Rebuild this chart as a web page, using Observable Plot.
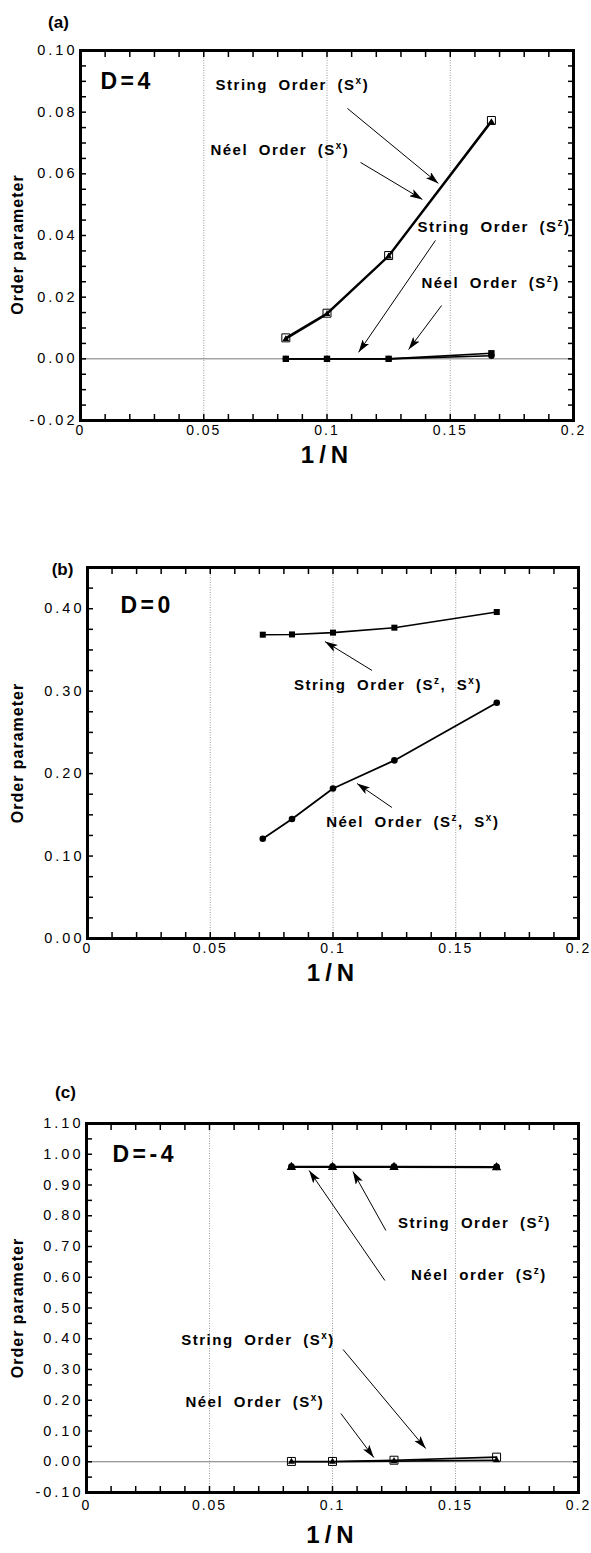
<!DOCTYPE html>
<html><head><meta charset="utf-8">
<script src="https://cdn.jsdelivr.net/npm/d3@7"></script>
<script src="https://cdn.jsdelivr.net/npm/@observablehq/plot@0.6"></script>
<style>
html,body{margin:0;padding:0;background:#fff;}
#chart svg{display:block;}
</style></head><body><div id="chart"></div>
<script>
const FONT = "'Liberation Sans', Arial, Helvetica, sans-serif";

// ---------- shared x axis ----------
const xTicks = [0, 0.05, 0.1, 0.15, 0.2];
const xTickLabels = ["0", "0.05", "0.1", "0.15", "0.2"];
const gridX = [0.05, 0.1, 0.15];

// ---------- panel (a) D=4 ----------
const aX = [0.0833, 0.1, 0.125, 0.1667];
const aStringSx = [0.0068, 0.0148, 0.0335, 0.0773];
const aNeelSx   = [0.0064, 0.0145, 0.0332, 0.0768];
const aStringSz = [0.0000, 0.0000, 0.0000, 0.0018];
const aNeelSz   = [0.0000, 0.0000, 0.0000, 0.0010];
const aYTicks = [-0.02, 0.00, 0.02, 0.04, 0.06, 0.08, 0.10];
const aYTickLabels = ["-0.02", "0.00", "0.02", "0.04", "0.06", "0.08", "0.10"];
const aNotes = [
  {text: "String Order (S^x)", x: 0.0548, y: 0.0886},
  {text: "Néel Order (S^x)", x: 0.0527, y: 0.0676},
  {text: "String Order (S^z)", x: 0.1367, y: 0.0426},
  {text: "Néel Order (S^z)", x: 0.1383, y: 0.0244}
];
const aArrows = [
  {x1: 0.1083, y1: 0.0812, x2: 0.1452, y2: 0.0569},
  {x1: 0.1136, y1: 0.0637, x2: 0.1387, y2: 0.0517},
  {x1: 0.1440, y1: 0.0384, x2: 0.1128, y2: 0.0021},
  {x1: 0.1465, y1: 0.0173, x2: 0.1331, y2: 0.0030}
];

// ---------- panel (b) D=0 ----------
const bX = [0.0714, 0.0833, 0.1, 0.125, 0.1667];
const bString = [0.3685, 0.3688, 0.371, 0.377, 0.396];
const bNeel   = [0.121, 0.145, 0.182, 0.216, 0.286];
const bYTicks = [0, 0.1, 0.2, 0.3, 0.4];
const bYTickLabels = ["0.00", "0.10", "0.20", "0.30", "0.40"];
const bNotes = [
  {text: "String Order (S^z, S^x)", x: 0.0841, y: 0.3069},
  {text: "Néel Order (S^z, S^x)", x: 0.0972, y: 0.1407}
];
const bArrows = [
  {x1: 0.1159, y1: 0.3251, x2: 0.0967, y2: 0.3602},
  {x1: 0.1240, y1: 0.1589, x2: 0.1098, y2: 0.1880}
];

// ---------- panel (c) D=-4 ----------
const cX = [0.0833, 0.1, 0.125, 0.1667];
const cStringSz = [0.960, 0.960, 0.960, 0.959];
const cNeelSz   = [0.958, 0.958, 0.958, 0.957];
const cStringSx = [0.001, 0.001, 0.005, 0.015];
const cNeelSx   = [0.000, 0.000, 0.002, 0.005];
const cYTicks = [-0.1, 0, 0.1, 0.2, 0.3, 0.4, 0.5, 0.6, 0.7, 0.8, 0.9, 1.0, 1.1];
const cYTickLabels = ["-0.10", "0.00", "0.10", "0.20", "0.30", "0.40", "0.50", "0.60", "0.70", "0.80", "0.90", "1.00", "1.10"];
const cNotes = [
  {text: "String Order (S^z)", x: 0.1266, y: 0.7748},
  {text: "Néel order (S^z)", x: 0.1319, y: 0.6057},
  {text: "String Order (S^x)", x: 0.0385, y: 0.3943},
  {text: "Néel Order (S^x)", x: 0.0402, y: 0.1927}
];
const cArrows = [
  {x1: 0.1217, y1: 0.752, x2: 0.1083, y2: 0.944},
  {x1: 0.1213, y1: 0.5894, x2: 0.0905, y2: 0.9472},
  {x1: 0.1043, y1: 0.365, x2: 0.1379, y2: 0.043},
  {x1: 0.1034, y1: 0.157, x2: 0.1168, y2: 0.0138}
];

const panels = [
  {
    tag: "(a)", tagDx: -22, tagDy: -35, ylDy: 9,
    dLabel: {text: "D=4", x: 0.0081, y: 0.0899},
    height: 500, mt: 50, mb: 80, ml: 80, mr: 18, xPad: 5, nDy: 42,
    yDomain: [-0.02, 0.10], yTicks: aYTicks, yTickLabels: aYTickLabels,
    yMinor: d3.range(-0.02, 0.1001, 0.005), zeroLine: true,
    x: aX,
    series: [
      {y: aStringSx, lw: 1.8, symbol: "square", r: 4.5, fill: "none", stroke: "black"},
      {y: aNeelSx, lw: 1.8, symbol: "triangle", r: 2.5, fill: "black", stroke: "none"},
      {y: aStringSz, lw: 1.6, symbol: "square", r: 3.6, fill: "black", stroke: "none"},
      {y: aNeelSz, lw: 1.6, symbol: "circle", r: 3.2, fill: "black", stroke: "none"}
    ],
    notes: aNotes, arrows: aArrows
  },
  {
    tag: "(b)", tagDx: -25, tagDy: -5, ylDy: 0,
    dLabel: {text: "D=0", x: 0.0134, y: 0.4039},
    height: 530, mt: 67, mb: 92, ml: 87, mr: 13, xPad: 5, nDy: 42,
    yDomain: [0, 0.45], yTicks: bYTicks, yTickLabels: bYTickLabels,
    yMinor: d3.range(0, 0.4501, 0.025), zeroLine: false,
    x: bX,
    series: [
      {y: bString, lw: 1.6, symbol: "square", r: 3.4, fill: "black", stroke: "none"},
      {y: bNeel, lw: 1.8, symbol: "circle", r: 3.3, fill: "black", stroke: "none"}
    ],
    notes: bNotes, arrows: bArrows
  },
  {
    tag: "(c)", tagDx: -21, tagDy: -38, ylDy: 0,
    dLabel: {text: "D=-4", x: 0.01055, y: 0.9992},
    height: 523, mt: 93, mb: 61, ml: 86, mr: 13, xPad: 8, nDy: 50,
    yDomain: [-0.1, 1.1], yTicks: cYTicks, yTickLabels: cYTickLabels,
    yMinor: d3.range(-0.1, 1.1001, 0.05), zeroLine: true,
    x: cX,
    series: [
      {y: cStringSz, lw: 1.8, symbol: "circle", r: 3.4, fill: "black", stroke: "none"},
      {y: cNeelSz, lw: 1.6, symbol: "triangle", r: 3.5, fill: "black", stroke: "none"},
      {y: cStringSx, lw: 1.6, symbol: "square", r: 4.5, fill: "none", stroke: "black"},
      {y: cNeelSx, lw: 1.6, symbol: "triangle", r: 2.6, fill: "black", stroke: "none"}
    ],
    notes: cNotes, arrows: cArrows
  }
];

const xMinor = d3.range(0, 0.2001, 0.01);
const NS = "http://www.w3.org/2000/svg";

function labeler(vals, labels) {
  const m = new Map(vals.map((v, i) => [v, labels[i]]));
  return d => m.get(d) ?? "";
}

function superscripts(svg) {
  svg.querySelectorAll("text").forEach(t => {
    const s = t.textContent;
    if (!s.includes("^")) return;
    while (t.firstChild) t.removeChild(t.firstChild);
    const parts = s.split(/\^(\w)/);
    parts.forEach((p, i) => {
      if (p === "") return;
      const ts = document.createElementNS(NS, "tspan");
      ts.textContent = p;
      if (i % 2 === 1) { ts.setAttribute("dy", "-6"); ts.setAttribute("font-size", "10"); }
      else if (i > 0) { ts.setAttribute("dy", "6"); }
      t.appendChild(ts);
    });
  });
}

function spacing(svg) {
  svg.querySelectorAll("g").forEach(g => {
    const al = g.getAttribute("aria-label") || "";
    const fs = g.getAttribute("font-size");
    if (al === "y-axis tick label") {
      g.style.letterSpacing = "3px";
    } else if (al === "x-axis tick label") {
      g.style.letterSpacing = "2px";
    } else if (al === "text") {
      if (fs === "15") { g.style.letterSpacing = "1.5px"; g.style.wordSpacing = "5px"; }
      else if (fs === "23") g.style.letterSpacing = "3.5px";
      else if (fs === "24") g.style.letterSpacing = "5px";
      else if (fs === "16") g.style.letterSpacing = "1px";
    }
  });
}

function arrowHeads(svg, k) {
  const defs = document.createElementNS(NS, "defs");
  const marker = document.createElementNS(NS, "marker");
  marker.setAttribute("id", "ah" + k);
  marker.setAttribute("viewBox", "0 0 13 8");
  marker.setAttribute("refX", "13");
  marker.setAttribute("refY", "4");
  marker.setAttribute("markerWidth", "13");
  marker.setAttribute("markerHeight", "8");
  marker.setAttribute("markerUnits", "userSpaceOnUse");
  marker.setAttribute("orient", "auto");
  const p = document.createElementNS(NS, "path");
  p.setAttribute("d", "M0,0L13,4L0,8L3,4Z");
  p.setAttribute("fill", "black");
  marker.appendChild(p);
  defs.appendChild(marker);
  svg.insertBefore(defs, svg.firstChild);
  svg.querySelectorAll('g[aria-label="link"] path').forEach(el => el.setAttribute("marker-end", `url(#ah${k})`));
}

const root = document.getElementById("chart");
panels.forEach((cfg, k) => {
  const marks = [
    Plot.ruleX(gridX, {stroke: "#999", strokeWidth: 1, strokeDasharray: "1,1.5"})
  ];
  if (cfg.zeroLine) marks.push(Plot.ruleY([0], {stroke: "#777", strokeWidth: 1}));
  for (const s of cfg.series) marks.push(Plot.line(cfg.x, {x: cfg.x, y: s.y, stroke: "black", strokeWidth: s.lw}));
  for (const s of cfg.series) marks.push(Plot.dot(cfg.x, {x: cfg.x, y: s.y, symbol: s.symbol, r: s.r, fill: s.fill, stroke: s.stroke, strokeWidth: 1}));
  marks.push(
    Plot.link(cfg.arrows, {x1: "x1", y1: "y1", x2: "x2", y2: "y2", stroke: "black", strokeWidth: 1}),
    Plot.text(cfg.notes, {x: "x", y: "y", text: "text", textAnchor: "start", fontSize: 15, fontWeight: "bold", fill: "black"}),
    Plot.text([cfg.dLabel], {x: "x", y: "y", text: "text", textAnchor: "start", fontSize: 23, fontWeight: "bold", fill: "black"}),
    Plot.text([cfg.tag], {text: d => d, frameAnchor: "top-left", textAnchor: "middle", dx: cfg.tagDx, dy: cfg.tagDy, fontSize: 17, fontWeight: "bold", fill: "black"}),
    Plot.text(["Order parameter"], {text: d => d, frameAnchor: "left", textAnchor: "middle", dx: 17 - cfg.ml, dy: cfg.ylDy, rotate: -90, fontSize: 16, fontWeight: "bold", fill: "black"}),
    Plot.text(["1/N"], {text: d => d, frameAnchor: "bottom", textAnchor: "middle", dy: cfg.nDy, fontSize: 24, fontWeight: "bold", fill: "black"}),
    Plot.axisY(cfg.yTicks, {anchor: "left", tickSize: 0, tickPadding: 3, tickFormat: labeler(cfg.yTicks, cfg.yTickLabels), fontSize: 14.5, label: null}),
    Plot.axisY(cfg.yMinor, {anchor: "left", tickSize: -6, strokeWidth: 1.5, tickFormat: () => "", label: null}),
    Plot.axisY(cfg.yMinor, {anchor: "right", tickSize: -6, strokeWidth: 1.5, tickFormat: () => "", label: null}),
    Plot.axisX(xTicks, {anchor: "bottom", tickSize: 0, tickPadding: cfg.xPad, tickFormat: labeler(xTicks, xTickLabels), fontSize: 14, label: null}),
    Plot.axisX(xMinor, {anchor: "bottom", tickSize: -6, strokeWidth: 1.5, tickFormat: () => "", label: null}),
    Plot.axisX(xMinor, {anchor: "top", tickSize: -6, strokeWidth: 1.5, tickFormat: () => "", label: null}),
    Plot.frame({stroke: "black", strokeWidth: 3})
  );
  const svg = Plot.plot({
    width: 591, height: cfg.height,
    marginTop: cfg.mt, marginBottom: cfg.mb, marginLeft: cfg.ml, marginRight: cfg.mr,
    x: {domain: [0, 0.2]},
    y: {domain: cfg.yDomain},
    style: {fontFamily: FONT, color: "black", background: "white", overflow: "visible"},
    marks
  });
  superscripts(svg);
  spacing(svg);
  arrowHeads(svg, k);
  root.appendChild(svg);
});
</script></body></html>
